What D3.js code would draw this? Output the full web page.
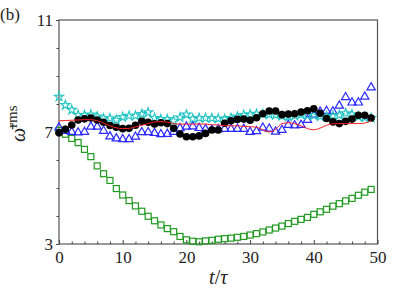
<!DOCTYPE html>
<html>
<head>
<meta charset="utf-8">
<script src="https://cdn.jsdelivr.net/npm/d3@7"></script>
<style>
	body { margin: 0; background: #fff; }
	svg { display: block; }
</style>
</head>
<body>
<svg id="chart" width="393" height="295"></svg>
<script>
// t/tau sample points, 0..49
var tVals = d3.range(0, 50);

// green open squares
var squareVals = [7.05, 6.92, 6.77, 6.62, 6.38, 6.12, 5.79, 5.51, 5.27, 4.98,
	4.75, 4.55, 4.36, 4.17, 3.99, 3.83, 3.68, 3.55, 3.44, 3.27,
	3.15, 3.10, 3.08, 3.11, 3.13, 3.17, 3.19, 3.21, 3.24, 3.27,
	3.32, 3.37, 3.43, 3.50, 3.57, 3.64, 3.73, 3.81, 3.88, 3.95,
	4.06, 4.15, 4.24, 4.35, 4.44, 4.54, 4.63, 4.74, 4.85, 4.95];

// black filled circles
var circleVals = [6.97, 7.10, 7.25, 7.43, 7.47, 7.50, 7.43, 7.35, 7.23, 7.17,
	7.12, 7.13, 7.24, 7.38, 7.35, 7.29, 7.33, 7.30, 7.13, 6.93,
	6.83, 6.83, 6.86, 6.95, 7.07, 7.07, 7.31, 7.40, 7.45, 7.46,
	7.42, 7.51, 7.65, 7.75, 7.75, 7.62, 7.64, 7.65, 7.71, 7.76,
	7.83, 7.67, 7.48, 7.36, 7.30, 7.38, 7.46, 7.60, 7.60, 7.50];

// cyan open stars
var starVals = [8.26, 7.96, 7.79, 7.61, 7.60, 7.62, 7.55, 7.48, 7.49, 7.43,
	7.53, 7.58, 7.58, 7.64, 7.70, 7.50, 7.46, 7.46, 7.40, 7.52,
	7.62, 7.47, 7.50, 7.50, 7.49, 7.48, 7.46, 7.50, 7.55, 7.61,
	7.63, 7.65, 7.64, 7.63, 7.61, 7.57, 7.55, 7.58, 7.62, 7.60,
	7.59, 7.56, 7.55, 7.58, 7.60, 7.67, 7.63, 7.55, 7.52, 7.50];

// blue open triangles
var triVals = [7.16, 7.04, 7.00, 6.98, 7.00, 7.19, 7.19, 7.04, 6.84, 6.77,
	6.74, 6.74, 6.83, 6.99, 6.99, 6.96, 6.92, 6.93, 7.00, 7.13,
	7.19, 7.20, 7.14, 7.10, 7.08, 7.10, 7.11, 7.11, 7.11, 7.11,
	7.00, 7.03, 7.15, 7.12, 7.01, 7.07, 7.25, 7.23, 7.25, 7.43,
	7.62, 7.72, 7.75, 7.73, 7.94, 8.24, 8.05, 8.05, 8.26, 8.59];

// red solid line
var lineVals = [7.40, 7.41, 7.42, 7.43, 7.44, 7.44, 7.40, 7.32, 7.22, 7.15,
	7.12, 7.13, 7.18, 7.24, 7.30, 7.36, 7.37, 7.35, 7.30, 7.28,
	7.28, 7.28, 7.29, 7.28, 7.26, 7.25, 7.23, 7.22, 7.22, 7.20,
	7.19, 7.17, 7.08, 7.00, 7.10, 7.30, 7.33, 7.30, 7.22, 7.12,
	7.08, 7.14, 7.24, 7.29, 7.30, 7.30, 7.30, 7.30, 7.32, 7.40];

var xMajorTicks = [0, 10, 20, 30, 40, 50];
var yMajorTicks = [3, 7, 11];

var FONT = "Liberation Serif";

var svg = d3.select("#chart"),
	margin = { top: 20, right: 15.5, bottom: 51, left: 59 },
	width = +svg.attr("width") - margin.left - margin.right,
	height = +svg.attr("height") - margin.top - margin.bottom;

var x = d3.scaleLinear().domain([0, 50]).range([margin.left, margin.left + width]);
var y = d3.scaleLinear().domain([3, 11]).range([margin.top + height, margin.top]);

function pts(vals) {
	return tVals.map(function(t, i) { return [t, vals[i]]; });
}

function styleAxis(g) {
	g.attr("font-family", FONT);
	g.select(".domain").remove();
	g.selectAll("line").attr("stroke", "#444");
	g.selectAll("text").attr("font-size", 17).attr("fill", "#222").style("font-family", FONT);
}

// plot frame
svg.append("rect")
	.attr("x", x(0)).attr("y", y(11))
	.attr("width", x(50) - x(0)).attr("height", y(3) - y(11))
	.attr("fill", "none").attr("stroke", "#555").attr("stroke-width", 1.2);

// bottom axis
svg.append("g")
	.attr("transform", "translate(0," + y(3) + ")")
	.call(d3.axisBottom(x).tickValues(xMajorTicks).tickSize(-4).tickPadding(7).tickFormat(d3.format("d")))
	.call(styleAxis);

svg.append("g")
	.attr("transform", "translate(0," + y(3) + ")")
	.call(d3.axisBottom(x).tickValues(d3.range(2, 50, 2).filter(function(d) { return d % 10 != 0; })).tickSize(-2.5).tickFormat(""))
	.call(styleAxis);

// left axis
svg.append("g")
	.attr("transform", "translate(" + x(0) + ",0)")
	.call(d3.axisLeft(y).tickValues(yMajorTicks).tickSize(3).tickPadding(3).tickFormat(d3.format("d")))
	.call(styleAxis);

svg.append("g")
	.attr("transform", "translate(" + x(0) + ",0)")
	.call(d3.axisLeft(y).tickValues([4, 5, 6, 8, 9, 10]).tickSize(2.5).tickFormat(""))
	.call(styleAxis);

// green squares
svg.append("g").selectAll("rect")
	.data(pts(squareVals))
	.enter().append("rect")
		.attr("x", function(d) { return x(d[0]) - 3; })
		.attr("y", function(d) { return y(d[1]) - 3; })
		.attr("width", 6).attr("height", 6)
		.attr("fill", "none").attr("stroke", "#1f9a1f").attr("stroke-width", 1.2);

// blue triangles
svg.append("g").selectAll("path")
	.data(pts(triVals))
	.enter().append("path")
		.attr("d", d3.symbol().type(d3.symbolTriangle).size(30))
		.attr("transform", function(d) { return "translate(" + x(d[0]) + "," + y(d[1]) + ")"; })
		.attr("fill", "none").attr("stroke", "#2a2aff").attr("stroke-width", 1.2);

// cyan stars
svg.append("g").selectAll("path")
	.data(pts(starVals))
	.enter().append("path")
		.attr("d", d3.symbol().type(d3.symbolStar).size(26))
		.attr("transform", function(d) { return "translate(" + x(d[0]) + "," + y(d[1]) + ")"; })
		.attr("fill", "none").attr("stroke", "#1fc3c3").attr("stroke-width", 1.1);

// black circles
svg.append("g").selectAll("circle")
	.data(pts(circleVals))
	.enter().append("circle")
		.attr("cx", function(d) { return x(d[0]); })
		.attr("cy", function(d) { return y(d[1]); })
		.attr("r", 3.8)
		.attr("fill", "#000");

// red line
svg.append("path")
	.datum(pts(lineVals))
	.attr("fill", "none").attr("stroke", "#ff2020").attr("stroke-width", 1)
	.attr("d", d3.line().curve(d3.curveMonotoneX)
		.x(function(d) { return x(d[0]); })
		.y(function(d) { return y(d[1]); }));

// labels
svg.append("text")
	.attr("x", 0).attr("y", 20)
	.style("font-family", FONT).attr("font-size", 17).attr("fill", "#222")
	.text("(b)");

var xl = svg.append("text")
	.attr("x", (x(0) + x(50)) / 2).attr("y", 284)
	.attr("text-anchor", "middle").style("font-family", FONT).attr("font-size", 20).attr("fill", "#222");
xl.append("tspan").attr("font-style", "italic").text("t");
xl.append("tspan").text("/");
xl.append("tspan").attr("font-style", "italic").text("τ");

var yl = svg.append("text")
	.attr("transform", "translate(25,142) rotate(-90)")
	.style("font-family", FONT).attr("font-size", 20).attr("fill", "#222");
yl.append("tspan").attr("font-style", "italic").text("ω̄");
yl.append("tspan").attr("font-size", 15).attr("dy", -8).text("rms");
</script>
</body>
</html>
